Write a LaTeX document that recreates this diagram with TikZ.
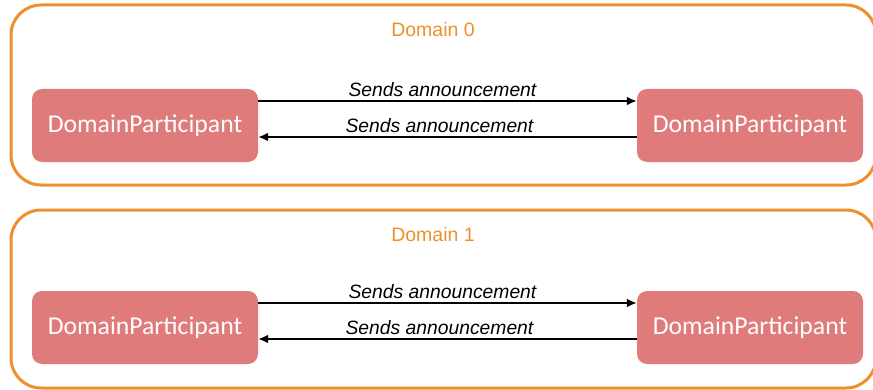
\documentclass[tikz,border=0pt]{standalone}
\usepackage{fontspec}
\setmainfont{Liberation Sans}
\newfontfamily\boxfont{Carlito}
\usetikzlibrary{arrows.meta}
\definecolor{dporange}{RGB}{237,143,42}
\definecolor{dpfill}{RGB}{224,123,123}
\tikzset{
  x=1pt,y=1pt,
  domainbox/.style={draw=dporange,line width=3pt,rounded corners=30pt},
  domainlabel/.style={text=dporange,font=\fontsize{19.5}{23}\selectfont},
  participant/.style={fill=dpfill,draw=none,rounded corners=10pt,minimum width=226pt,minimum height=73pt,inner sep=0pt,text=white,font=\boxfont\fontsize{25.7}{30}\selectfont},
  msg/.style={line width=2.6pt,-{Latex[length=10pt,width=9pt]}},
  msglabel/.style={font=\itshape\fontsize{19.3}{23}\selectfont,inner sep=0pt}
}
\begin{document}
\begin{tikzpicture}
\useasboundingbox (0,0) rectangle (873,389);
% Domain 0
\draw[domainbox] (11,384) rectangle (876,204);
\node[domainlabel] (d0) at (433,359) {Domain 0};
\node[participant] (a0) at (145,263.5) {DomainParticipant};
\node[participant] (b0) at (750,263.5) {DomainParticipant};
\draw[msg] ([yshift=24.5pt]a0.east) -- ([yshift=24.5pt]b0.west) node[msglabel,midway,above=3.5pt,xshift=-5pt] (l0a) {Sends announcement};
\draw[msg] ([yshift=-11.5pt]b0.west) -- ([yshift=-11.5pt]a0.east) node[msglabel,midway,above=3.5pt,xshift=-8pt] (l0b) {Sends announcement};
% Domain 1
\draw[domainbox] (11,179) rectangle (876,1);
\node[domainlabel] (d1) at (433,154) {Domain 1};
\node[participant] (a1) at (145,61.5) {DomainParticipant};
\node[participant] (b1) at (750,61.5) {DomainParticipant};
\draw[msg] ([yshift=24.5pt]a1.east) -- ([yshift=24.5pt]b1.west) node[msglabel,midway,above=3.5pt,xshift=-5pt] (l1a) {Sends announcement};
\draw[msg] ([yshift=-11.5pt]b1.west) -- ([yshift=-11.5pt]a1.east) node[msglabel,midway,above=3.5pt,xshift=-8pt] (l1b) {Sends announcement};
\end{tikzpicture}
\end{document}
